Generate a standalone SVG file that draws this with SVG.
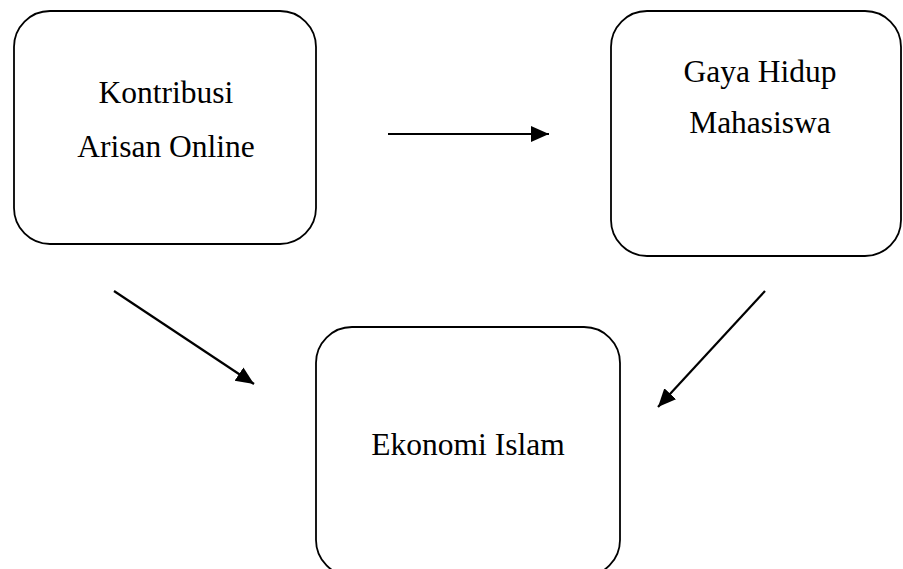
<svg xmlns="http://www.w3.org/2000/svg" width="903" height="569" viewBox="0 0 903 569">
<style>
.box{fill:#fff;stroke:#000;stroke-width:1.8}
.lbl{font-family:"Liberation Serif","Times New Roman",serif;font-size:31.5px;fill:#000;text-anchor:middle}
.conn{stroke:#000;stroke-width:2.2;fill:none}
</style>
<defs>
<marker id="ah" markerUnits="userSpaceOnUse" markerWidth="20" markerHeight="18" refX="18" refY="8" orient="auto" viewBox="0 0 20 18">
<path d="M0,0 L18,8 L0,16 Z" fill="#000"/>
</marker>
</defs>
<rect width="903" height="569" fill="#fff"/>
<g id="node-kontribusi">
<rect class="box" x="14" y="11" width="302" height="233" rx="36" ry="36"/>
<text class="lbl" x="166" y="103">Kontribusi</text>
<text class="lbl" x="166" y="157">Arisan Online</text>
</g>
<g id="node-gaya">
<rect class="box" x="611" y="11" width="290" height="245" rx="36" ry="36"/>
<text class="lbl" x="760" y="82">Gaya Hidup</text>
<text class="lbl" x="760" y="133">Mahasiswa</text>
</g>
<g id="node-ekonomi">
<rect class="box" x="316" y="327" width="304" height="249" rx="36" ry="36"/>
<text class="lbl" x="468" y="455">Ekonomi Islam</text>
</g>
<g id="connectors">
<line class="conn" x1="388" y1="134" x2="549" y2="134" marker-end="url(#ah)"/>
<line class="conn" x1="114" y1="291" x2="254" y2="384" marker-end="url(#ah)"/>
<line class="conn" x1="765" y1="291" x2="658" y2="407" marker-end="url(#ah)"/>
</g>
</svg>
